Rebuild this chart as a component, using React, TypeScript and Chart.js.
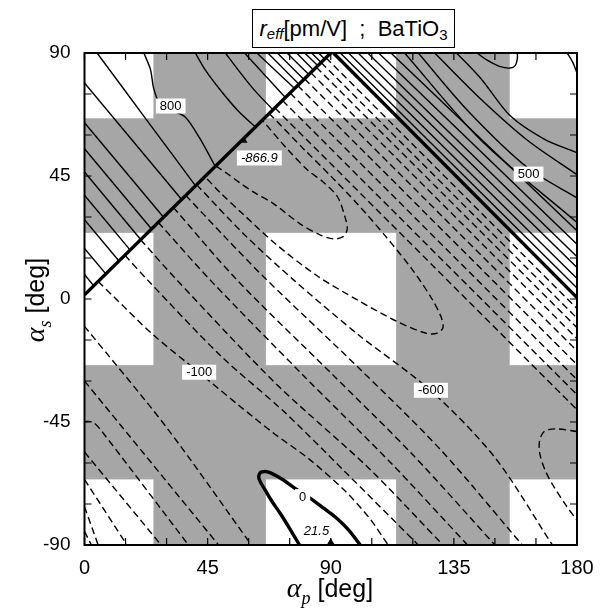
import React, { useEffect, useRef } from "react";
import { Chart, registerables } from "chart.js";

Chart.register(...registerables);

type Pt = [number, number];

// Tick positions (degrees)
const alphaPTicks = [0, 15, 30, 45, 60, 75, 90, 105, 120, 135, 150, 165, 180];
const alphaSTicks = [-90, -75, -60, -45, -30, -15, 0, 15, 30, 45, 60, 75, 90];

// Shaded bands: α_p columns and α_s rows
const shadedColumns: Pt[] = [[25.2, 66.3], [113.9, 155.4]];
const shadedRows: Pt[] = [[24.2, 66.1], [-66.0, -24.2]];

// r_eff = 0 contours
const zeroContours: Pt[][] = [
  [[0, 1.5], [90, 90]],
  [[91, 90], [180, 0.5]],
  [[78.6, -90], [75, -84], [71.5, -78.4], [68.5, -74], [66, -69.8], [63.8, -65.8], [64.2, -63.6], [66, -63.1], [68, -63.6], [72.7, -66.2], [76.4, -68.9], [80, -71.3], [83.1, -73.3], [87.5, -76.6], [92.2, -80.2], [96.5, -84.5], [100.8, -90]],
];

// r_eff > 0 contours
const positiveContours: Pt[][] = [
  [[0, 9], [3.4, 4.8]],
  [[0, 18.5], [7.8, 9.2]],
  [[0, 29], [12.6, 13.9]],
  [[0, 38], [16.7, 17.9]],
  [[0, 46.5], [20.6, 21.7]],
  [[0, 55], [24.5, 25.6]],
  [[0, 64.5], [28.9, 29.9]],
  [[0, 79], [35.5, 36.4]],
  [[4.6, 90], [22.2, 66.2], [40.6, 41.4]],
  [[21.7, 90], [24.1, 84], [25.3, 77], [27.5, 71.5], [32, 69], [36.9, 66.5], [42, 59], [47.8, 48.5]],
  [[40.5, 90], [44, 84], [50, 76], [56, 69], [62.5, 62.9]],
  [[51.5, 90], [56, 84], [62, 76.5], [68.9, 69.2]],
  [[58.5, 90], [73.4, 73.7]],
  [[63, 90], [76.8, 77]],
  [[67, 90], [78.4, 78.6]],
  [[70.5, 90], [80.2, 80.3]],
  [[74, 90], [82, 82.1]],
  [[77.5, 90], [83.7, 83.8]],
  [[80.5, 90], [85.3, 85.3]],
  [[83, 90], [86.5, 86.5]],
  [[85.5, 90], [87.8, 87.8]],
  [[93.5, 90], [180, 4]],
  [[96.5, 90], [180, 7.5]],
  [[100, 90], [180, 11.5]],
  [[103.5, 90], [180, 15.5]],
  [[107.5, 90], [180, 20]],
  [[112, 90], [180, 25]],
  [[117, 90], [145, 58], [180, 28]],
  [[122, 90], [140, 69], [162, 48], [180, 37]],
  [[128, 90], [145, 73], [162, 58], [180, 45.5]],
  [[136, 90], [145, 80.5], [155.6, 67], [168, 58.5], [180, 53.5]],
  [[143.5, 90], [147, 87.5], [152, 85], [155.6, 84.5], [157.5, 85.5], [158.2, 88], [158.2, 90]],
  [[176.4, 90], [178.5, 86.5], [180, 82.7]],
];

// r_eff < 0 contours
const negativeContours: Pt[][] = [
  [[88.25, 88.25], [180, -3.5]],
  [[86.48, 86.52], [180, -7]],
  [[84.72, 84.78], [180, -10.5]],
  [[82.7, 82.8], [180, -14.5]],
  [[80.43, 80.57], [180, -19]],
  [[77.91, 78.09], [180, -24]],
  [[75.14, 75.36], [180, -29.5]],
  [[72.37, 72.63], [180, -35]],
  [[69.59, 69.91], [180, -40.5]],
  [[67.5, 67.9], [80, 55], [90, 45], [100, 34.5], [110, 23], [120, 10.5], [127, 0], [130.5, -7], [131, -10.5], [129, -12.5], [125, -12.6], [114.2, -8.2], [100, -0.5], [85, 8.5], [70, 20], [58, 31], [50, 38.5], [44, 44.8]],
  [[48, 48.7], [52, 46], [56.9, 42.4], [62, 39], [68.9, 35], [78.8, 27.5], [86, 23.5], [91, 22], [94.5, 22.8], [96, 25.5], [95.5, 29], [92.4, 37.5], [87, 43], [81.4, 47.3], [74, 55], [65, 65.4]],
  [[41, 41.8], [58, 24], [76.4, 7], [100, -13], [126.5, -33.5], [150, -58], [171, -90]],
  [[37, 37.9], [52, 22], [66.6, 7], [100, -25], [130, -55], [160, -90]],
  [[32.5, 33.5], [55.7, 7], [90, -27], [120, -57], [150, -90]],
  [[27, 28], [45.9, 7], [80, -28], [112, -60], [140, -90]],
  [[20.5, 21.7], [33.7, 7], [70, -31], [104, -62], [131, -90]],
  [[14.8, 16], [23, 7], [50, -21], [72.7, -41], [95, -63], [122, -90]],
  [[5, 6.4], [10, 1.5], [25, -13], [42, -27], [57, -39.4], [69, -49], [82, -58.5], [95, -70], [104, -80], [111, -90]],
  [[0, -10], [30, -47], [61, -90]],
  [[0, -30], [49, -90]],
  [[0, -44.8], [3, -45], [6, -48], [38, -90]],
  [[0, -56], [28, -90]],
  [[0, -66], [15.5, -90]],
  [[0, -76], [5, -90]],
  [[0, -85], [2.5, -90]],
  [[180, -48.5], [172, -47.5], [168, -48.5], [166.3, -52], [166.5, -57], [168.5, -63], [171.5, -68.6], [176, -75.5], [180, -81]],
];

// Contour value labels
const contourLabels = [
  { text: "800", at: [31.5, 70.6] as Pt, italic: false },
  { text: "-866.9", at: [63.9, 51.6] as Pt, italic: true },
  { text: "500", at: [162.3, 45.7] as Pt, italic: false },
  { text: "-100", at: [41.9, -26.8] as Pt, italic: false },
  { text: "-600", at: [126.6, -33.4] as Pt, italic: false },
  { text: "0", at: [79.7, -72.3] as Pt, italic: false },
  { text: "21.5", at: [84.8, -84.7] as Pt, italic: true },
];

// Extremum markers
const extremaMarks: Pt[] = [[58.3, 58.3], [90, -90]];

const SANS = '"Liberation Sans", Arial, Helvetica, sans-serif';
const SHADE = "#a6a6a6";

const toXY = (pts: Pt[]) => pts.map(([x, y]) => ({ x, y }));

const decorations = {
  id: "decorations",
  beforeDatasetsDraw(chart: any) {
    const { ctx, chartArea: a, scales } = chart;
    const sx = scales.x, sy = scales.y;
    ctx.save();
    ctx.fillStyle = SHADE;
    for (const [p0, p1] of shadedColumns) {
      const x0 = sx.getPixelForValue(p0), x1 = sx.getPixelForValue(p1);
      ctx.fillRect(x0, a.top, x1 - x0, a.bottom - a.top);
    }
    for (const [s0, s1] of shadedRows) {
      const y0 = sy.getPixelForValue(s1), y1 = sy.getPixelForValue(s0);
      ctx.fillRect(a.left, y0, a.right - a.left, y1 - y0);
    }
    ctx.restore();
  },
  afterDatasetsDraw(chart: any) {
    const { ctx, chartArea: a, scales } = chart;
    const sx = scales.x, sy = scales.y;
    ctx.save();
    // labels
    ctx.textAlign = "center";
    ctx.textBaseline = "middle";
    for (const l of contourLabels) {
      const px = sx.getPixelForValue(l.at[0]);
      const py = sy.getPixelForValue(l.at[1]);
      ctx.font = `${l.italic ? "italic " : ""}13px ${SANS}`;
      const w = ctx.measureText(l.text).width + 8;
      const h = 15;
      ctx.fillStyle = "#fff";
      ctx.fillRect(px - w / 2, py - h / 2, w, h);
      ctx.fillStyle = "#000";
      ctx.fillText(l.text, px, py + 0.5);
    }
    // extremum markers
    ctx.fillStyle = "#000";
    for (const [p, s] of extremaMarks) {
      const px = sx.getPixelForValue(p);
      const py = sy.getPixelForValue(s);
      const up = s <= -90 ? -1 : 0;
      ctx.beginPath();
      if (up) {
        ctx.moveTo(px - 4, py);
        ctx.lineTo(px + 4, py);
        ctx.lineTo(px, py - 7);
      } else {
        ctx.moveTo(px - 3.5, py + 3);
        ctx.lineTo(px + 3.5, py + 3);
        ctx.lineTo(px, py - 3);
      }
      ctx.closePath();
      ctx.fill();
    }
    // inward ticks
    ctx.strokeStyle = "#000";
    ctx.lineWidth = 1.2;
    const len = 7;
    ctx.beginPath();
    for (const v of alphaPTicks) {
      const px = sx.getPixelForValue(v);
      ctx.moveTo(px, a.bottom);
      ctx.lineTo(px, a.bottom - len);
      ctx.moveTo(px, a.top);
      ctx.lineTo(px, a.top + len);
    }
    for (const v of alphaSTicks) {
      const py = sy.getPixelForValue(v);
      ctx.moveTo(a.left, py);
      ctx.lineTo(a.left + len, py);
      ctx.moveTo(a.right, py);
      ctx.lineTo(a.right - len, py);
    }
    ctx.stroke();
    // frame
    ctx.lineWidth = 2;
    ctx.strokeRect(a.left, a.top, a.right - a.left, a.bottom - a.top);
    ctx.restore();
  },
};

export default function App() {
  const ref = useRef<HTMLCanvasElement>(null);

  useEffect(() => {
    const canvas = ref.current;
    if (!canvas) return;
    const line = (pts: Pt[], width: number, dash: number[]) => ({
      data: toXY(pts),
      showLine: true,
      borderColor: "#000",
      borderWidth: width,
      borderDash: dash,
      pointRadius: 0,
      tension: pts.length > 2 ? 0.3 : 0,
      fill: false,
      clip: 0,
    });
    const datasets = [
      ...negativeContours.map((p) => line(p, 1.4, [7, 4])),
      ...positiveContours.map((p) => line(p, 1.4, [])),
      ...zeroContours.map((p) => line(p, 3.4, [])),
    ];
    const chart = new Chart(canvas, {
      type: "scatter",
      data: { datasets },
      options: {
        animation: false,
        responsive: false,
        maintainAspectRatio: false,
        layout: { padding: { top: 53, right: 29, left: 0, bottom: 0 } },
        plugins: { legend: { display: false }, tooltip: { enabled: false }, title: { display: false } },
        scales: {
          x: {
            type: "linear",
            min: 0,
            max: 180,
            grid: { display: false },
            border: { display: false },
            ticks: { stepSize: 45, color: "#000", font: { size: 20, family: SANS }, padding: 3, maxRotation: 0, autoSkip: false },
            afterFit: (s: any) => { s.height = 64; },
          },
          y: {
            type: "linear",
            min: -90,
            max: 90,
            grid: { display: false },
            border: { display: false },
            ticks: { stepSize: 45, color: "#000", font: { size: 19, family: SANS }, padding: 6, autoSkip: false },
            afterFit: (s: any) => { s.width = 84.5; },
          },
        },
      } as any,
      plugins: [decorations],
    });
    return () => chart.destroy();
  }, []);

  return (
    <div style={{ position: "fixed", left: 0, top: 0, width: 606, height: 609, background: "#fff", overflow: "hidden" }}>
      <canvas ref={ref} width={606} height={609} style={{ display: "block" }} />
      <div
        style={{
          position: "absolute", left: 252, top: 9, width: 203, height: 39, boxSizing: "border-box",
          border: "1.5px solid #000", display: "flex", alignItems: "center", justifyContent: "center",
          font: `22px ${SANS}`, whiteSpace: "pre", color: "#000", background: "#fff",
        }}
      >
        <span style={{ fontStyle: "italic" }}>r</span>
        <span style={{ fontStyle: "italic", fontSize: 15, position: "relative", top: 5 }}>eff</span>
        <span>[pm/V]  ;  BaTiO</span>
        <span style={{ fontSize: 15, position: "relative", top: 6 }}>3</span>
      </div>
      <div
        style={{
          position: "absolute", left: 230, top: 572, width: 200, textAlign: "center",
          font: `25px ${SANS}`, whiteSpace: "pre", color: "#000",
        }}
      >
        <span style={{ fontFamily: '"Liberation Serif", serif', fontStyle: "italic", fontSize: 28 }}>α</span>
        <span style={{ fontFamily: '"Liberation Serif", serif', fontStyle: "italic", fontSize: 18, position: "relative", top: 7 }}>p</span>
        <span> [deg]</span>
      </div>
      <div
        style={{
          position: "absolute", left: 35, top: 300, width: 200, textAlign: "center",
          transform: "translate(-50%, -50%) rotate(-90deg)",
          font: `25px ${SANS}`, whiteSpace: "pre", color: "#000",
        }}
      >
        <span style={{ fontFamily: '"Liberation Serif", serif', fontStyle: "italic", fontSize: 28 }}>α</span>
        <span style={{ fontFamily: '"Liberation Serif", serif', fontStyle: "italic", fontSize: 18, position: "relative", top: 7 }}>s</span>
        <span> [deg]</span>
      </div>
    </div>
  );
}
